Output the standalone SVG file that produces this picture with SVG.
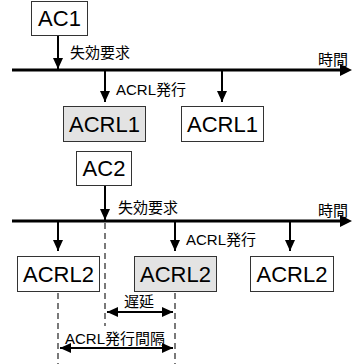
<svg xmlns="http://www.w3.org/2000/svg" width="352" height="364" viewBox="0 0 352 364">
<defs>
<marker id="ah" markerWidth="12" markerHeight="12" refX="11" refY="5" orient="auto" markerUnits="userSpaceOnUse">
<path d="M0,0 L11,5 L0,10 Z" fill="#000"/>
</marker>
<marker id="ahs" markerWidth="12" markerHeight="12" refX="0" refY="5" orient="auto" markerUnits="userSpaceOnUse">
<path d="M11,0 L0,5 L11,10 Z" fill="#000"/>
</marker>
<style>
.box{fill:#fff;stroke:#333;stroke-width:1}
.gray{fill:#e3e3e3;stroke:#333;stroke-width:1}
.big{font-family:"Liberation Sans","Noto Sans CJK JP",sans-serif;font-size:22px;fill:#000;text-anchor:middle}
.lbl{font-family:"Liberation Sans","Noto Sans CJK JP",sans-serif;font-size:15px;fill:#000}
.arr{stroke:#000;stroke-width:2;fill:none;marker-end:url(#ah)}
.line{stroke:#000;stroke-width:3;fill:none}
.dash{stroke:#333;stroke-width:1.3;stroke-dasharray:6,4;fill:none}
.dbl{stroke:#000;stroke-width:2;fill:none;marker-end:url(#ah);marker-start:url(#ahs)}
</style>
</defs>
<g id="connectors">
<line class="line" x1="12" y1="70" x2="342" y2="70"/>
<path d="M340,64 L352,70 L340,76 Z" fill="#000"/>
<line class="arr" x1="58" y1="36" x2="58" y2="69"/>
<line class="arr" x1="105" y1="71" x2="105" y2="102"/>
<line class="arr" x1="222" y1="71" x2="222" y2="102"/>
<line class="line" x1="12" y1="221" x2="342" y2="221"/>
<path d="M340,215 L352,221 L340,227 Z" fill="#000"/>
<line class="arr" x1="105" y1="185" x2="105" y2="220"/>
<line class="arr" x1="58" y1="222" x2="58" y2="251"/>
<line class="arr" x1="175" y1="222" x2="175" y2="251"/>
<line class="arr" x1="290" y1="222" x2="290" y2="251"/>
<line class="dash" x1="105" y1="223" x2="105" y2="326"/>
<line class="dash" x1="58" y1="293" x2="58" y2="364"/>
<line class="dash" x1="175" y1="293" x2="175" y2="364"/>
<line class="dbl" x1="107" y1="312" x2="173" y2="312"/>
<line class="dbl" x1="60" y1="348" x2="173" y2="348"/>
</g>
<g id="labels">
<text class="lbl" x="70" y="58">失効要求</text>
<text class="lbl" x="318" y="65">時間</text>
<text class="lbl" x="116" y="95">ACRL発行</text>
<text class="lbl" x="118" y="213">失効要求</text>
<text class="lbl" x="318" y="216">時間</text>
<text class="lbl" x="186" y="245">ACRL発行</text>
<text class="lbl" x="124" y="307">遅延</text>
<text class="lbl" x="65" y="344">ACRL発行間隔</text>
</g>
<g id="AC1"><rect class="box" x="31.5" y="1.5" width="56" height="34"/><text class="big" x="59.5" y="26">AC1</text></g>
<g id="ACRL1a"><rect class="gray" x="63.5" y="106.5" width="82" height="35"/><text class="big" x="104.5" y="132">ACRL1</text></g>
<g id="ACRL1b"><rect class="box" x="181.5" y="106.5" width="82" height="35"/><text class="big" x="222.5" y="132">ACRL1</text></g>
<g id="AC2"><rect class="box" x="76.5" y="151.5" width="55" height="34"/><text class="big" x="104" y="176">AC2</text></g>
<g id="ACRL2a"><rect class="box" x="17.5" y="256.5" width="82" height="35"/><text class="big" x="58.5" y="282">ACRL2</text></g>
<g id="ACRL2b"><rect class="gray" x="134.5" y="256.5" width="82" height="35"/><text class="big" x="175.5" y="282">ACRL2</text></g>
<g id="ACRL2c"><rect class="box" x="250.5" y="256.5" width="83" height="35"/><text class="big" x="292" y="282">ACRL2</text></g>
</svg>
